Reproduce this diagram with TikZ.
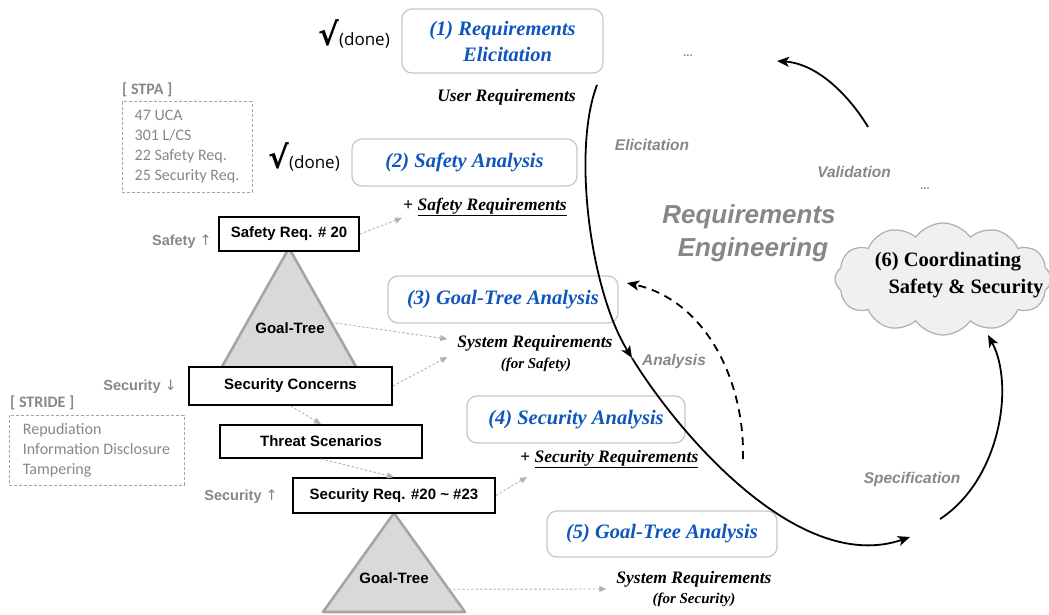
\documentclass[tikz,border=0pt]{standalone}
\usepackage{fontspec}
\setmainfont{Liberation Serif}
\setsansfont{Liberation Sans}
\newfontfamily\notefont{Carlito}
\newfontfamily\symfont{DejaVu Sans}
\newfontfamily\donefont{Open Sans}
\usetikzlibrary{shapes.symbols,arrows.meta,calc}

\definecolor{stepblue}{RGB}{14,86,188}
\definecolor{boxgray}{RGB}{200,200,200}
\definecolor{labgray}{RGB}{135,135,135}
\definecolor{trifill}{RGB}{217,217,217}
\definecolor{triedge}{RGB}{165,165,165}
\definecolor{arrgray}{RGB}{178,178,178}
\definecolor{cloudfill}{RGB}{240,240,240}
\definecolor{cloudedge}{RGB}{175,175,175}

\begin{document}
\begin{tikzpicture}[x=1pt,y=-1pt,
  stagebox/.style={draw=boxgray, line width=1.3pt, rounded corners=10pt, inner sep=0pt},
  stagetext/.style={text=stepblue, font=\fontsize{20.5}{26}\selectfont\bfseries\itshape, align=center},
  reqtext/.style={font=\fontsize{17.5}{20}\selectfont\bfseries\itshape, inner sep=0pt},
  subtext/.style={font=\fontsize{15}{18}\selectfont\bfseries\itshape, inner sep=0pt},
  blackbox/.style={draw=black, line width=1.8pt, fill=white, inner sep=0pt,
    font=\sffamily\bfseries\fontsize{15}{18}\selectfont},
  sidelab/.style={text=labgray, font=\sffamily\bfseries\fontsize{14.5}{17}\selectfont, inner sep=0pt},
  flowlab/.style={text=labgray, font=\sffamily\bfseries\itshape\fontsize{15.5}{18}\selectfont, inner sep=0pt},
  notebox/.style={draw=triedge, dash pattern=on 3pt off 2pt, line width=1pt, align=left,
    text=labgray, font=\notefont\fontsize{16}{20}\selectfont, inner sep=0pt},
  notehead/.style={text=labgray, font=\notefont\bfseries\fontsize{16}{20}\selectfont, inner sep=0pt},
  donemark/.style={inner sep=0pt},
  hint/.style={draw=arrgray, dash pattern=on 2.5pt off 2pt, line width=0.9pt,
    -{Triangle[length=7pt,width=6pt]}},
  flow/.style={draw=black, line width=1.8pt, -{Stealth[length=12pt,width=10pt,inset=3pt]}},
  tree/.style={fill=trifill, draw=triedge, line width=2.6pt, line join=round},
  goaltext/.style={font=\sffamily\bfseries\fontsize{15}{18}\selectfont, inner sep=0pt},
]
\useasboundingbox (0,0) rectangle (1049,615);

% ---------- goal trees (behind the requirement boxes) ----------
\coordinate (t1a) at (289,248);
\coordinate (t1l) at (219,372);
\coordinate (t1r) at (359,372);
\draw[tree] (t1a) -- (t1l) -- (t1r) -- cycle;
\node[goaltext] (gt1) at (290,328) {Goal-Tree};

\coordinate (t2a) at (394,513);
\coordinate (t2l) at (323,612);
\coordinate (t2r) at (465,612);
\draw[tree] (t2a) -- (t2l) -- (t2r) -- cycle;
\node[goaltext] (gt2) at (394,578) {Goal-Tree};

% ---------- requirement boxes ----------
\node[blackbox, minimum width=140, minimum height=34] (sr20) at (289,234) {Safety Req. \# 20};
\node[blackbox, minimum width=203, minimum height=38] (secc) at (290.5,386) {Security Concerns};
\node[blackbox, minimum width=202, minimum height=33] (threat) at (321,441.5) {Threat Scenarios};
\node[blackbox, minimum width=202, minimum height=35] (secreq) at (394,495.5) {Security Req. \#20 \textasciitilde{} \#23};

% ---------- side labels ----------
\node[sidelab, anchor=east] (upsafe) at (212,242) {Safety {\symfont\mdseries ↑}};
\node[sidelab, anchor=east] (downsec) at (177,387) {Security {\symfont\mdseries ↓}};
\node[sidelab, anchor=east] (upsec) at (278,497) {Security {\symfont\mdseries ↑}};

% ---------- method notes ----------
\node[notehead, anchor=west] (stpahead) at (122,90) {[ STPA ]};
\node[notebox, minimum width=130, minimum height=90] (stpa) at (187,147)
  {47 UCA\\301 L/CS\\22 Safety Req.\\25 Security Req.};
\node[notehead, anchor=west] (stridehead) at (10,403) {[ STRIDE ]};
\node[notebox, minimum width=175, minimum height=70] (stride) at (96.5,450)
  {Repudiation\\Information Disclosure\\Tampering};

% ---------- stage boxes ----------
\node[stagebox, stagetext, minimum width=201, minimum height=64] (s1) at (502.5,41)
  {(1) Requirements\\\hspace*{10pt}Elicitation};
\node[stagebox, stagetext, minimum width=225, minimum height=47] (s2) at (464.5,162.5) {(2) Safety Analysis};
\node[stagebox, stagetext, minimum width=230, minimum height=47] (s3) at (503,299.5) {(3) Goal-Tree Analysis};
\node[stagebox, stagetext, minimum width=218, minimum height=47] (s4) at (576,419.5) {(4) Security Analysis};
\node[stagebox, stagetext, minimum width=230, minimum height=46] (s5) at (662,534) {(5) Goal-Tree Analysis};

% ---------- done marks ----------
\node[donemark, anchor=base east] (done1) at (390,46)
  {{\symfont\bfseries\fontsize{31}{31}\selectfont √}{\donefont\fontsize{17}{18}\selectfont (done)}};
\node[donemark, anchor=base east] (done2) at (340,168)
  {{\symfont\bfseries\fontsize{31}{31}\selectfont √}{\donefont\fontsize{17}{18}\selectfont (done)}};

% ---------- produced requirements ----------
\node[reqtext, anchor=east] (ureq) at (576,97) {User Requirements};
\node[reqtext, anchor=west] (plussafe) at (403,207) {+ \underline{Safety Requirements}};
\node[reqtext] (sysA) at (535,343) {System Requirements};
\node[subtext] (forA) at (536,365) {(for Safety)};
\node[reqtext, anchor=west] (plussec) at (520,459) {+ \underline{Security Requirements}};
\node[reqtext] (sysB) at (694,579) {System Requirements};
\node[subtext] (forB) at (694,600) {(for Security)};

% ---------- derivation hints ----------
\draw[hint] (sr20.east) -- ($(plussafe.west)+(-1,11)$);
\draw[hint] ($(t1r)!0.4!(t1a)$) -- ($(sysA.west)+(-10,-4)$);
\draw[hint] (secc.east) -- ($(sysA.west)+(-10,14)$);
\draw[hint] (secc.south) -- (threat.north);
\draw[hint] (threat.south) -- (secreq.north);
\draw[hint] (secreq.east) -- ($(plussec.west)+(7,18)$);
\draw[hint] ($(t2r)!0.23!(t2a)$) -- ($(sysB.west)+(-10,10)$);

% ---------- coordination cloud ----------
\node[cloud, cloud puffs=12, cloud puff arc=110, aspect=1.9, draw=cloudedge, fill=cloudfill,
  line width=1.2pt, minimum width=216, minimum height=112] (coord) at (943,279) {};
\node[font=\fontsize{20.5}{26}\selectfont\bfseries, inner sep=0pt] (coordA) at (948,262) {(6) Coordinating};
\node[font=\fontsize{20.5}{26}\selectfont\bfseries, inner sep=0pt] (coordB) at (966,288) {Safety \& Security};

% ---------- engineering cycle ----------
\node[text=labgray, font=\sffamily\bfseries\itshape\fontsize{26}{33}\selectfont, align=center, inner sep=0pt]
  (re) at (749,233) {Requirements\\\hspace*{8pt}Engineering};
\node[flowlab] (elic) at (652,145) {Elicitation};
\node[flowlab] (valid) at (854,172) {Validation};
\node[flowlab] (anal) at (674,361) {Analysis};
\node[flowlab] (spec) at (912,479) {Specification};
\node[text=labgray, font=\sffamily\bfseries\fontsize{11}{12}\selectfont, inner sep=0pt] (dotsA) at (688,56) {...};
\node[text=labgray, font=\sffamily\bfseries\fontsize{11}{12}\selectfont, inner sep=0pt] (dotsB) at (925,189) {...};

\coordinate (arcstart) at (597,85);
\coordinate (arcmid) at (632,358);
\coordinate (arcend) at (910,537);
\draw[flow] (arcstart) .. controls (572,150) and (590,290) .. (arcmid);
\draw[flow] (arcmid) .. controls (680,436) and (800,575) .. (arcend);

\coordinate (valstart) at (868,127);
\coordinate (valend) at (777,61);
\draw[flow] (valstart) .. controls (852,100) and (820,64) .. (valend);

\coordinate (specstart) at (940,519);
\coordinate (specend) at (988,335);
\draw[flow] (specstart) .. controls (1000,480) and (1015,385) .. (specend);

\coordinate (backstart) at (743,459);
\coordinate (backend) at (627,283);
\draw[flow, dash pattern=on 8pt off 6pt] (backstart) .. controls (745,380) and (705,300) .. (backend);
\end{tikzpicture}
\end{document}
